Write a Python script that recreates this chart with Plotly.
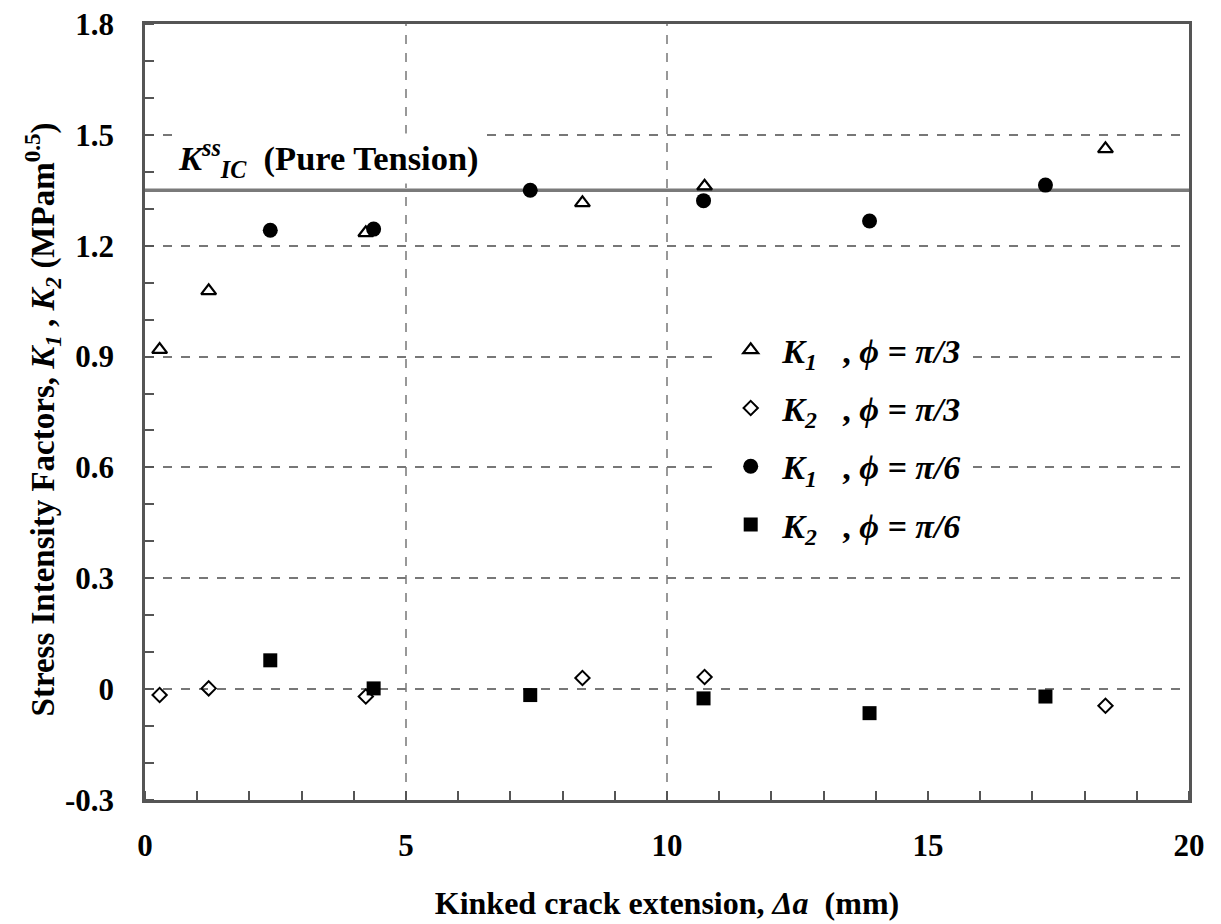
import plotly.graph_objects as go

# ---- data ----
x_k1_pi3 = [0.28, 1.22, 4.23, 8.38, 10.72, 18.40]
y_k1_pi3 = [0.919, 1.078, 1.235, 1.316, 1.361, 1.462]

x_k2_pi3 = [0.28, 1.22, 4.23, 8.38, 10.72, 18.40]
y_k2_pi3 = [-0.016, 0.002, -0.020, 0.030, 0.033, -0.045]

x_k1_pi6 = [2.40, 4.38, 7.38, 10.70, 13.88, 17.25]
y_k1_pi6 = [1.242, 1.245, 1.350, 1.322, 1.267, 1.364]

x_k2_pi6 = [2.40, 4.38, 7.38, 10.70, 13.88, 17.25]
y_k2_pi6 = [0.078, 0.002, -0.016, -0.025, -0.065, -0.020]

kic_x = [0, 20]
kic_y = [1.35, 1.35]

x_grid_vals = [5, 10]
x_ticks = [0, 5, 10, 15, 20]
x_tick_text = ["0", "5", "10", "15", "20"]
y_ticks = [-0.3, 0, 0.3, 0.6, 0.9, 1.2, 1.5, 1.8]
y_tick_text = ["-0.3", "0", "0.3", "0.6", "0.9", "1.2", "1.5", "1.8"]

FONT = "Liberation Serif"
AX = "#555555"

fig = go.Figure()

fig.add_trace(go.Scatter(x=kic_x, y=kic_y, mode="lines",
                         line=dict(color="#7a7a7a", width=3.5),
                         showlegend=False, hoverinfo="skip"))

fig.add_trace(go.Scatter(
    x=x_k1_pi3, y=y_k1_pi3, mode="markers",
    name="<b><i>K<sub>1</sub></i>   , <i>ϕ = π/3</i></b>",
    legendgroup="a",
    marker=dict(symbol="triangle-up-open", size=13, color="black",
                line=dict(width=2.2, color="black"))))
fig.add_trace(go.Scatter(
    x=x_k2_pi3, y=y_k2_pi3, mode="markers",
    name="<b><i>K<sub>2</sub></i>   , <i>ϕ = π/3</i></b>",
    legendgroup="b",
    marker=dict(symbol="diamond-open", size=11, color="black",
                line=dict(width=2, color="black"))))
fig.add_trace(go.Scatter(
    x=x_k1_pi6, y=y_k1_pi6, mode="markers",
    name="<b><i>K<sub>1</sub></i>   , <i>ϕ = π/6</i></b>",
    legendgroup="c",
    marker=dict(symbol="circle", size=15, color="black")))
fig.add_trace(go.Scatter(
    x=x_k2_pi6, y=y_k2_pi6, mode="markers",
    name="<b><i>K<sub>2</sub></i>   , <i>ϕ = π/6</i></b>",
    legendgroup="d",
    marker=dict(symbol="square", size=14, color="black")))

# vertical dashed gridlines at 5 and 10 only
for xv in x_grid_vals:
    fig.add_shape(type="line", xref="x", yref="paper", x0=xv, x1=xv, y0=0, y1=1,
                  line=dict(color="#777777", width=1.5, dash="dash"), layer="below")

fig.add_annotation(
    x=0.62, y=1.437, xref="x", yref="y", xanchor="left", yanchor="middle",
    text="<b><i>K</i><sup><i>ss</i></sup><sub><i>IC</i></sub>  (Pure Tension)</b>",
    showarrow=False, bgcolor="white", borderpad=0,
    font=dict(family=FONT, size=34.5, color="black"))

fig.add_annotation(
    x=-0.098, y=0.49, xref="paper", yref="paper", textangle=-90,
    xanchor="center", yanchor="middle", showarrow=False,
    text="<b>Stress Intensity Factors, <i>K<sub>1</sub></i> , <i>K<sub>2</sub></i> (MPam<sup>0.5</sup>)</b>",
    font=dict(family=FONT, size=33, color="black"))

fig.update_layout(
    width=1221, height=924,
    margin=dict(l=137, r=40, t=16, b=132),
    plot_bgcolor="white", paper_bgcolor="white",
    font=dict(family=FONT, size=28, color="black"),
    legend=dict(x=0.550, y=0.617, xanchor="left", yanchor="top",
                bgcolor="white", borderwidth=0, tracegroupgap=11,
                font=dict(family=FONT, size=34, color="black"),
                itemwidth=53),
    xaxis=dict(range=[0, 20], tickvals=x_ticks,
               ticktext=["<b>%s</b>" % t for t in x_tick_text],
               ticks="", showgrid=False, zeroline=False, automargin=False,
               showline=True, linecolor=AX, linewidth=2.5, mirror=True,
               ticklabelstandoff=16, ticklabeloverflow="allow",
               tickfont=dict(family=FONT, size=31, color="black"),
               minor=dict(dtick=1, ticks="inside", ticklen=9, tickwidth=2, tickcolor=AX,
                          showgrid=False),
               title=dict(text="<b>Kinked crack extension, <i>Δa</i>  (mm)</b>",
                          font=dict(family=FONT, size=32, color="black"), standoff=30)),
    yaxis=dict(range=[-0.3, 1.8], tickvals=y_ticks,
               ticktext=["<b>%s</b>" % t for t in y_tick_text],
               ticks="", showgrid=True, gridcolor="#777777", gridwidth=1.5,
               griddash="dash", zeroline=False, automargin=False,
               showline=True, linecolor=AX, linewidth=2.5, mirror=True,
               ticklabelstandoff=22, ticklabeloverflow="allow",
               tickfont=dict(family=FONT, size=31, color="black"),
               minor=dict(dtick=0.1, tick0=0, ticks="inside", ticklen=9, tickwidth=2,
                          tickcolor=AX, showgrid=False)),
)

fig.write_html("out.html")
